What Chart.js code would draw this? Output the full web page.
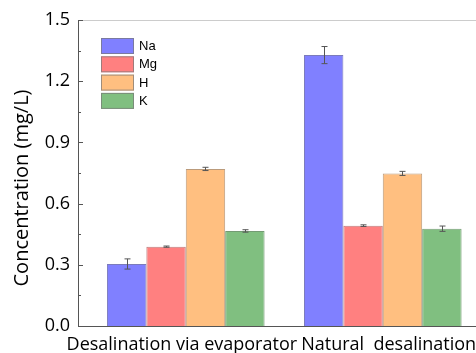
<!DOCTYPE html>
<html>
<head>
<meta charset="utf-8">
<script src="https://cdn.jsdelivr.net/npm/chart.js@4"></script>
<style>
  body { margin: 0; overflow: hidden; background: #fff; }
  #contenedor { width: 500px; height: 353px; position: relative; }
</style>
</head>
<body>
<div id="contenedor"><canvas id="graficaConcentracion"></canvas></div>
<script>
var grupos = ["Desalination via evaporator", "Natural  desalination"];
var iones = ["Na", "Mg", "H", "K"];

var valoresNa = [0.304, 1.328];
var valoresMg = [0.389, 0.492];
var valoresH = [0.770, 0.748];
var valoresK = [0.466, 0.477];

var erroresNa = [0.025, 0.042];
var erroresMg = [0.003, 0.004];
var erroresH = [0.008, 0.010];
var erroresK = [0.006, 0.013];

var ticksY = [0, 0.3, 0.6, 0.9, 1.2, 1.5];
var tituloY = "Concentration (mg/L)";

var coloresIones = ["rgb(128,128,255)", "rgb(255,128,128)", "rgb(255,191,128)", "rgb(128,191,128)"];
var bordesIones = ["rgba(90,90,170,0.8)", "rgba(170,90,90,0.8)", "rgba(170,130,90,0.8)", "rgba(80,130,80,0.8)"];

var FUENTE = "'Open Sans', sans-serif";

function armarSerie(valores) {
    var puntos = [];
    for (let i = 0; i < valores.length; i++) {
        puntos.push({x: i, y: valores[i]});
    }
    return puntos;
}

var todosValores = [valoresNa, valoresMg, valoresH, valoresK];
var todosErrores = [erroresNa, erroresMg, erroresH, erroresK];

var datasets = [];
for (let d = 0; d < iones.length; d++) {
    datasets.push({
        label: iones[d],
        data: armarSerie(todosValores[d]),
        errores: todosErrores[d],
        backgroundColor: coloresIones[d],
        borderColor: bordesIones[d],
        borderWidth: 1,
        categoryPercentage: 0.8,
        barPercentage: 1.0
    });
}

// barras de error dibujadas con las escalas del grafico
var pluginErrores = {
    id: "errores",
    afterDatasetsDraw: function (chart) {
        var ctx = chart.ctx;
        var escalaY = chart.scales.y;
        ctx.save();
        ctx.strokeStyle = "#555";
        ctx.lineWidth = 1;
        chart.data.datasets.forEach(function (ds, d) {
            var meta = chart.getDatasetMeta(d);
            meta.data.forEach(function (barra, i) {
                var v = ds.data[i].y;
                var e = ds.errores[i];
                var arriba = escalaY.getPixelForValue(v + e);
                var abajo = escalaY.getPixelForValue(v - e);
                var x = Math.round(barra.x) + 0.5;
                ctx.beginPath();
                ctx.moveTo(x, arriba);
                ctx.lineTo(x, abajo);
                ctx.moveTo(x - 3, arriba);
                ctx.lineTo(x + 3, arriba);
                ctx.moveTo(x - 3, abajo);
                ctx.lineTo(x + 3, abajo);
                ctx.stroke();
            });
        });
        ctx.restore();
    }
};

// marcas hacia dentro, borde superior, titulo del eje y leyenda dentro del area
var pluginMarco = {
    id: "marco",
    afterDraw: function (chart) {
        var ctx = chart.ctx;
        var area = chart.chartArea;
        var escalaY = chart.scales.y;
        ctx.save();
        ctx.strokeStyle = "#ccc";
        ctx.lineWidth = 1;
        ctx.beginPath();
        ctx.moveTo(area.left, area.top + 0.5);
        ctx.lineTo(area.right, area.top + 0.5);
        ctx.stroke();

        ctx.strokeStyle = "#555";
        for (let i = 0; i < ticksY.length; i++) {
            var y = Math.round(escalaY.getPixelForValue(ticksY[i])) + 0.5;
            ctx.beginPath();
            ctx.moveTo(area.left, y);
            ctx.lineTo(area.left + 5, y);
            ctx.stroke();
            if (i < ticksY.length - 1) {
                var ym = Math.round(escalaY.getPixelForValue((ticksY[i] + ticksY[i + 1]) / 2)) + 0.5;
                ctx.beginPath();
                ctx.moveTo(area.left, ym);
                ctx.lineTo(area.left + 3, ym);
                ctx.stroke();
            }
        }

        // titulo del eje y, algo mas abajo del centro como en el original
        ctx.save();
        ctx.translate(22, 188);
        ctx.rotate(-Math.PI / 2);
        ctx.font = "20px " + FUENTE;
        ctx.textAlign = "center";
        ctx.textBaseline = "middle";
        ctx.fillStyle = "#000";
        ctx.fillText(tituloY, 0, 0);
        ctx.restore();

        ctx.font = "13px 'Liberation Sans', Arial, sans-serif";
        ctx.textBaseline = "middle";
        ctx.textAlign = "left";
        chart.data.datasets.forEach(function (ds, d) {
            var yCaja = 38 + d * 18.3;
            ctx.fillStyle = ds.backgroundColor;
            ctx.fillRect(101, yCaja, 33, 16);
            ctx.strokeStyle = "rgba(120,120,120,0.7)";
            ctx.strokeRect(101.5, yCaja + 0.5, 32, 15);
            ctx.fillStyle = "#000";
            ctx.fillText(ds.label, 139, yCaja + 8.5);
        });
        ctx.restore();
    }
};

function crearGrafica() {
    var ctx = document.getElementById("graficaConcentracion").getContext("2d");
    new Chart(ctx, {
        type: "bar",
        data: {datasets: datasets},
        plugins: [pluginErrores, pluginMarco],
        options: {
            responsive: true,
            maintainAspectRatio: false,
            animation: false,
            layout: {autoPadding: false, padding: {top: 20, left: 0, right: 0, bottom: 0}},
            plugins: {legend: {display: false}, tooltip: {enabled: false}},
            scales: {
                x: {
                    type: "linear",
                    offset: false,
                    min: -0.547,
                    max: 1.595,
                    afterFit: function (escala) { escala.height = 27; },
                    // las etiquetas del original no quedan centradas justo bajo cada grupo
                    afterBuildTicks: function (escala) {
                        escala.ticks = [{value: -0.02}, {value: 1.03}];
                    },
                    grid: {display: false, drawTicks: false},
                    border: {color: "#555", width: 1},
                    ticks: {
                        autoSkip: false,
                        maxRotation: 0,
                        padding: 8,
                        color: "#000",
                        font: {family: FUENTE, size: 18},
                        callback: function (valor, indice) {
                            return grupos[indice];
                        }
                    }
                },
                y: {
                    min: 0,
                    max: 1.5,
                    afterFit: function (escala) { escala.width = 78; },
                    grid: {display: false, drawTicks: false},
                    border: {color: "#555", width: 1},
                    ticks: {
                        stepSize: 0.3,
                        padding: 8,
                        color: "#000",
                        font: {family: FUENTE, size: 18},
                        callback: function (valor) { return valor.toFixed(1); }
                    }
                }
            }
        }
    });
}

crearGrafica();
</script>
</body>
</html>
